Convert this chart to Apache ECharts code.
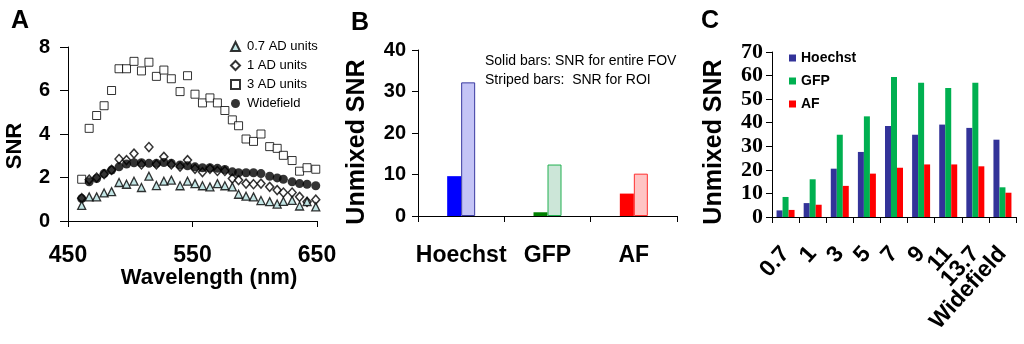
<!DOCTYPE html>
<html><head><meta charset="utf-8">
<script src="https://cdn.jsdelivr.net/npm/echarts@6/dist/echarts.min.js"></script>
<style>html,body{margin:0;padding:0;background:#fff}#c{width:1024px;height:344px}</style>
</head><body><div id="c"></div>
<script>
// Panel A data
const wavelengths = [461,467,473,479,485,491,497,503,509,515,521,527,533,540,546,552,558,564,570,576,582,587,593,599,605,612,618,623,630,636,642,649];
const snr07 = [0.72,1.11,1.11,1.29,1.35,1.77,1.69,1.83,1.54,2.06,1.63,1.83,1.88,1.62,1.83,1.72,1.62,1.57,1.72,1.62,1.57,1.23,1.14,1.11,0.94,0.89,0.78,0.90,0.95,0.69,0.89,0.65];
const snr1 = [1.05,1.90,2.00,2.15,2.35,2.85,2.80,3.10,2.60,3.40,2.60,2.95,2.60,2.50,2.80,2.40,2.25,2.40,2.30,2.30,1.95,1.88,1.72,1.69,1.72,1.57,1.42,1.31,1.31,1.11,0.88,0.98];
const snr3 = [1.92,4.26,4.85,5.30,6.00,7.00,7.00,7.34,6.90,7.30,6.65,6.94,6.54,5.95,6.68,5.83,5.43,5.66,5.43,5.08,4.65,4.38,3.77,3.66,4.00,3.42,3.34,3.02,2.78,2.29,2.45,2.38];
const snrWide = [1.03,1.80,1.95,2.18,2.34,2.49,2.62,2.68,2.68,2.65,2.65,2.69,2.65,2.58,2.54,2.49,2.45,2.45,2.42,2.37,2.26,2.22,2.22,2.22,2.18,2.06,1.98,1.92,1.80,1.72,1.69,1.62];
const seriesNamesA = ['0.7 AD units','1 AD units','3 AD units','Widefield'];
// Panel B data
const bCategories = ['Hoechst','GFP','AF'];
const bSolid = [9.6, 0.9, 5.4];
const bStriped = [32.2, 12.4, 10.2];
// Panel C data
const cCategories = ['0.7','1','3','5','7','9','11','13.7','Widefield'];
const cHoechst = [2.8,5.9,20.5,27.6,38.6,34.9,39.2,37.8,32.8];
const cGFP = [8.5,16,34.9,42.7,59.4,57,54.7,57,12.6];
const cAF = [3.0,5.2,13.2,18.4,20.9,22.3,22.3,21.5,10.3];

const SANS = 'Liberation Sans, Arial, sans-serif';
const SERIF = 'Liberation Serif, Times New Roman, serif';
const zip = arr => wavelengths.map((w,i)=>[w, arr[i]]);
const axLine = {show:true, lineStyle:{color:'#000', width:1}};
const axTick = {show:true, length:6, lineStyle:{color:'#000', width:1}};

const bSolidColors = ['#0000ff','#008000','#ff0000'];
const bStripeFill = ['#c4c4f6','#cce6d8','#ffc4c4'];
const bStripeBorder = ['#3a3aa0','#20b050','#ff3030'];

const chart = echarts.init(document.getElementById('c'));
chart.setOption({
  animation:false,
  backgroundColor:'#fff',
  grid:[
    {left:68, top:47, width:249, height:174},
    {left:418, top:50, width:259, height:166},
    {left:772, top:52, width:244, height:165}
  ],
  xAxis:[
    {type:'value', gridIndex:0, min:450, max:650, interval:100, axisLine:axLine, axisTick:axTick, splitLine:{show:false},
     axisLabel:{fontFamily:SANS, fontWeight:'bold', fontSize:23, color:'#000', margin:23}},
    {type:'category', gridIndex:1, data:bCategories, axisLine:axLine, axisTick:axTick,
     axisLabel:{fontFamily:SANS, fontWeight:'bold', fontSize:23, color:'#000', margin:28, interval:0}},
    {type:'category', gridIndex:2, data:cCategories, axisLine:axLine, axisTick:axTick,
     axisLabel:{fontFamily:SANS, fontWeight:'bold', fontSize:23, color:'#000', margin:33, interval:0, rotate:48}}
  ],
  yAxis:[
    {type:'value', gridIndex:0, min:0, max:8, interval:2, axisLine:axLine, axisTick:{show:true, length:8, lineStyle:{color:'#000'}}, splitLine:{show:false},
     axisLabel:{fontFamily:SANS, fontWeight:'bold', fontSize:20, color:'#000', margin:18}},
    {type:'value', gridIndex:1, min:0, max:40, interval:10, axisLine:axLine, axisTick:axTick, splitLine:{show:false},
     axisLabel:{fontFamily:SANS, fontWeight:'bold', fontSize:20, color:'#000', margin:12}},
    {type:'value', gridIndex:2, min:0, max:70, interval:10, axisLine:axLine, axisTick:axTick, splitLine:{show:false},
     axisLabel:{fontFamily:SERIF, fontWeight:'bold', fontSize:22, color:'#000', margin:9}}
  ],
  legend:[
    {data:seriesNamesA, orient:'vertical', left:225, top:35, itemGap:6, itemWidth:9, itemHeight:9,
     textStyle:{fontFamily:SANS, fontSize:13, color:'#000', padding:[0,0,0,2]}},
    {data:['Hoechst','GFP','AF'], orient:'vertical', left:784, top:46, itemGap:9, itemWidth:7, itemHeight:7, icon:'rect',
     textStyle:{fontFamily:SANS, fontSize:14, fontWeight:'bold', color:'#000'}}
  ],
  series:[
    {name:seriesNamesA[2], type:'scatter', xAxisIndex:0, yAxisIndex:0, data:zip(snr3), symbol:'rect', symbolSize:8,
     itemStyle:{color:'#fff', borderColor:'#000', borderWidth:1}},
    {name:seriesNamesA[1], type:'scatter', xAxisIndex:0, yAxisIndex:0, data:zip(snr1), symbol:'diamond', symbolSize:[8,9],
     itemStyle:{color:'#fff', borderColor:'#000', borderWidth:1.5}},
    {name:seriesNamesA[3], type:'scatter', xAxisIndex:0, yAxisIndex:0, data:zip(snrWide), symbol:'circle', symbolSize:9,
     itemStyle:{color:'#000'}},
    {name:seriesNamesA[0], type:'scatter', xAxisIndex:0, yAxisIndex:0, data:zip(snr07), symbol:'triangle', symbolSize:8,
     itemStyle:{color:'#b4dede', borderColor:'#000', borderWidth:1.3}},
    {name:'FOV', type:'bar', xAxisIndex:1, yAxisIndex:1, barWidth:14, barGap:'0%',
     data:bSolid.map((v,i)=>({value:v, itemStyle:{color:bSolidColors[i]}}))},
    {name:'ROI', type:'bar', xAxisIndex:1, yAxisIndex:1, barWidth:14, barGap:'0%',
     data:bStriped.map((v,i)=>({value:v, itemStyle:{color:bStripeFill[i], borderColor:bStripeBorder[i], borderWidth:1}}))},
    {name:'Hoechst', type:'bar', xAxisIndex:2, yAxisIndex:2, barWidth:6, barGap:'0%', data:cHoechst, itemStyle:{color:'#333399'}},
    {name:'GFP', type:'bar', xAxisIndex:2, yAxisIndex:2, barWidth:6, barGap:'0%', data:cGFP, itemStyle:{color:'#00b050'}},
    {name:'AF', type:'bar', xAxisIndex:2, yAxisIndex:2, barWidth:6, barGap:'0%', data:cAF, itemStyle:{color:'#ff0000'}}
  ],
  graphic:[
    {type:'text', x:11, y:21, style:{text:'A', fontFamily:SANS, fontWeight:'bold', fontSize:25, fill:'#000', verticalAlign:'middle'}},
    {type:'text', x:351, y:23, style:{text:'B', fontFamily:SANS, fontWeight:'bold', fontSize:25, fill:'#000', verticalAlign:'middle'}},
    {type:'text', x:701, y:21, style:{text:'C', fontFamily:SANS, fontWeight:'bold', fontSize:25, fill:'#000', verticalAlign:'middle'}},
    {type:'text', x:15, y:146, rotation:Math.PI/2, style:{text:'SNR', fontFamily:SANS, fontWeight:'bold', fontSize:22, fill:'#000', align:'center', verticalAlign:'middle'}},
    {type:'text', x:209, y:278, style:{text:'Wavelength (nm)', fontFamily:SANS, fontWeight:'bold', fontSize:22, fill:'#000', align:'center', verticalAlign:'middle'}},
    {type:'text', x:357, y:142, rotation:Math.PI/2, style:{text:'Unmixed SNR', fontFamily:SANS, fontWeight:'bold', fontSize:25, fill:'#000', align:'center', verticalAlign:'middle'}},
    {type:'text', x:714, y:142, rotation:Math.PI/2, style:{text:'Unmixed SNR', fontFamily:SANS, fontWeight:'bold', fontSize:25, fill:'#000', align:'center', verticalAlign:'middle'}},
    {type:'text', x:485, y:61, style:{text:'Solid bars: SNR for entire FOV', fontFamily:SANS, fontSize:14, fill:'#000', verticalAlign:'middle'}},
    {type:'text', x:485, y:80, style:{text:'Striped bars:  SNR for ROI', fontFamily:SANS, fontSize:14, fill:'#000', verticalAlign:'middle'}}
  ]
});
</script></body></html>
